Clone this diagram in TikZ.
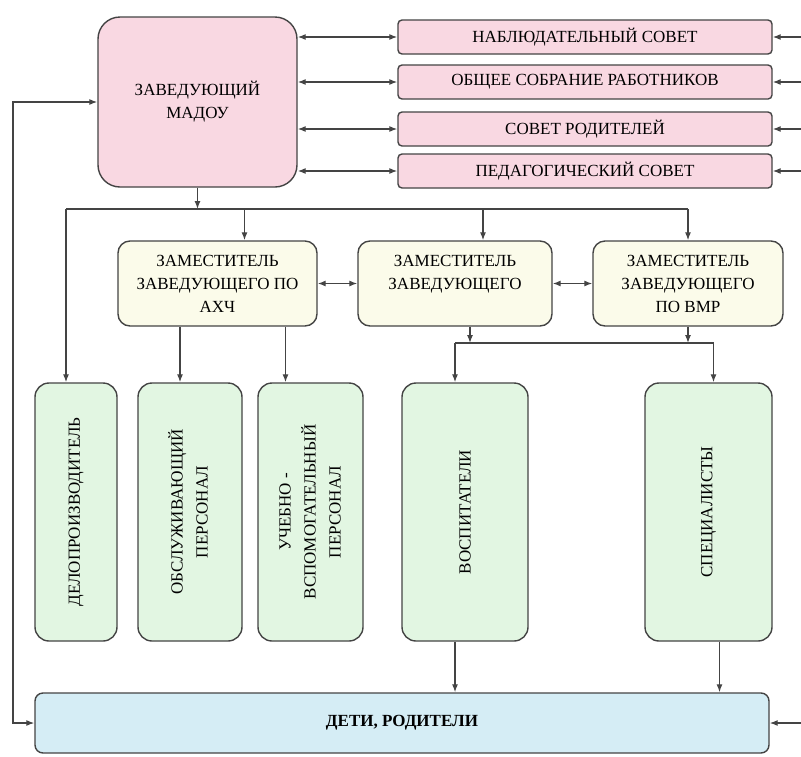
\documentclass[tikz,border=0pt]{standalone}
\usepackage{fontspec}
\setmainfont{Liberation Serif}
\usepackage{graphicx}
\usetikzlibrary{arrows.meta}
\definecolor{headpink}{HTML}{F9D8E2}
\definecolor{deputycream}{HTML}{FBFBEA}
\definecolor{staffgreen}{HTML}{E2F6E2}
\definecolor{kidsblue}{HTML}{D5EDF5}
\definecolor{edgegray}{HTML}{444444}
\tikzset{
    orgbox/.style={draw=edgegray, line width=1.4pt, align=center, inner sep=2pt, font=\fontsize{17}{23}\selectfont},
    headbox/.style={orgbox, fill=headpink, rounded corners=22pt, minimum width=199pt, minimum height=170pt},
    councilbox/.style={orgbox, fill=headpink, rounded corners=4pt, minimum width=374pt, minimum height=34pt},
    deputybox/.style={orgbox, fill=deputycream, rounded corners=12pt, minimum height=85pt},
    staffbox/.style={orgbox, fill=staffgreen, rounded corners=14pt, minimum height=258pt, font=\fontsize{17}{25}\selectfont},
    kidsbox/.style={orgbox, fill=kidsblue, rounded corners=8pt, minimum width=734pt, minimum height=60pt},
    link/.style={draw=edgegray, line width=1.2pt}
}

\begin{document}
\begin{tikzpicture}[x=1pt, y=-1pt, >={Latex[length=8pt,width=6pt]}]
\useasboundingbox (0,0) rectangle (801,756);
\node[headbox] (head) at (197.5,102) {ЗАВЕДУЮЩИЙ\\МАДОУ};
\node[councilbox] (obs) at (585,37) {НАБЛЮДАТЕЛЬНЫЙ СОВЕТ};
\node[councilbox] (meet) at (585,82) {ОБЩЕЕ СОБРАНИЕ РАБОТНИКОВ};
\node[councilbox] (par) at (585,129) {СОВЕТ РОДИТЕЛЕЙ};
\node[councilbox] (ped) at (585,171) {ПЕДАГОГИЧЕСКИЙ СОВЕТ};
\node[deputybox, minimum width=199pt] (ach) at (217.5,283.5) {ЗАМЕСТИТЕЛЬ\\ЗАВЕДУЮЩЕГО ПО\\АХЧ};
\node[deputybox, minimum width=194pt] (dep) at (455,283.5) {ЗАМЕСТИТЕЛЬ\\ЗАВЕДУЮЩЕГО\\\mbox{}};
\node[deputybox, minimum width=190pt] (vmr) at (688,283.5) {ЗАМЕСТИТЕЛЬ\\ЗАВЕДУЮЩЕГО\\ПО ВМР};
\node[staffbox, minimum width=82pt] (clerk) at (76,512) {\rotatebox{90}{ДЕЛОПРОИЗВОДИТЕЛЬ}};
\node[staffbox, minimum width=104pt] (serv) at (190,512) {\rotatebox{90}{\begin{tabular}{@{}c@{}}ОБСЛУЖИВАЮЩИЙ\\ПЕРСОНАЛ\end{tabular}}};
\node[staffbox, minimum width=105pt] (aux) at (310.5,512) {\rotatebox{90}{\begin{tabular}{@{}c@{}}УЧЕБНО -\\ВСПОМОГАТЕЛЬНЫЙ\\ПЕРСОНАЛ\end{tabular}}};
\node[staffbox, minimum width=126pt] (tutor) at (465,512) {\rotatebox{90}{ВОСПИТАТЕЛИ}};
\node[staffbox, minimum width=127pt] (spec) at (708.5,512) {\rotatebox{90}{СПЕЦИАЛИСТЫ}};
\node[kidsbox] (kids) at (402,723) {\textbf{ДЕТИ, РОДИТЕЛИ}};
\coordinate (redge) at (801,0);
\coordinate (ledge) at (13,0);
\coordinate (bus) at (0,209);
\coordinate (subbus) at (0,343);
\foreach \c in {obs,meet,par,ped} {
    \draw[link,<->] (head.east |- \c) -- (\c.west);
    \draw[link,->] (\c.east -| redge) -- (\c.east);
}
\draw[link,<->] (head.west) -- (head.west -| ledge) -- (kids.west -| ledge) -- (kids.west);
\draw[link,->] (head.south) -- (head.south |- bus);
\draw[link] ([xshift=-10pt]clerk.north |- bus) -- (vmr.north |- bus);
\foreach \n/\s in {clerk/-10,ach/27,dep/28,vmr/0}
    \draw[link,->] ([xshift=\s pt]\n.north |- bus) -- ([xshift=\s pt]\n.north);
\draw[link,<->] (ach.east) -- (dep.west);
\draw[link,<->] (dep.east) -- (vmr.west);
\draw[link,->] ([xshift=-10pt]serv.north |- ach.south) -- ([xshift=-10pt]serv.north);
\draw[link,->] ([xshift=-25pt]aux.north |- ach.south) -- ([xshift=-25pt]aux.north);
\draw[link,->] ([xshift=15pt]dep.south) -- ([xshift=15pt]dep.south |- subbus);
\draw[link,->] (vmr.south) -- (vmr.south |- subbus);
\draw[link] ([xshift=-10pt]tutor.north |- subbus) -- ([xshift=5pt]spec.north |- subbus);
\draw[link,->] ([xshift=-10pt]tutor.north |- subbus) -- ([xshift=-10pt]tutor.north);
\draw[link,->] ([xshift=5pt]spec.north |- subbus) -- ([xshift=5pt]spec.north);
\draw[link,->] ([xshift=-10pt]tutor.south) -- ([xshift=-10pt]tutor.south |- kids.north);
\draw[link,->] ([xshift=11pt]spec.south) -- ([xshift=11pt]spec.south |- kids.north);
\draw[link,->] (kids.east -| redge) -- (kids.east);
\end{tikzpicture}
\end{document}
